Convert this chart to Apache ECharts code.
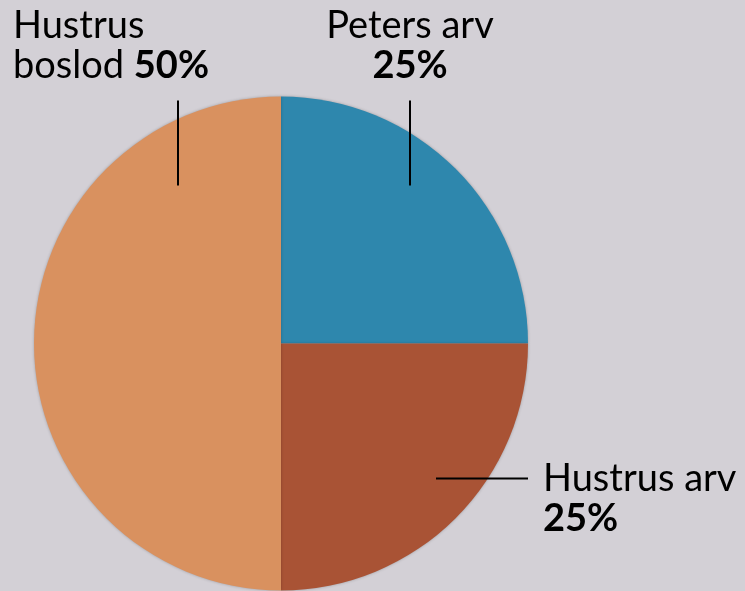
<!DOCTYPE html>
<html><head><meta charset="utf-8">
<script src="https://cdn.jsdelivr.net/npm/echarts@6/dist/echarts.min.js"></script>
<style>html,body{margin:0;padding:0;background:#d3d0d6;}#c{width:745px;height:591px;}</style>
</head><body><div id="c"></div>
<script>
var categories = ['Peters arv', 'Hustrus arv', 'Hustrus boslod'];
var values = [25, 25, 50];
var colors = ['#2e87ad', '#a95335', '#d9915f'];
var nameLines = [['Peters arv'], ['Hustrus arv'], ['Hustrus', 'boslod']];

var chart = echarts.init(document.getElementById('c'), null, {renderer: 'canvas'});
var cx = 281, cy = 343.5, R = 247;
var labelSpots = [
  {x: cx + 129, y: 6, align: 'center', line: [[cx + 129, cy - 158], [cx + 129, cy - 200], [cx + 129, cy - 243]]},
  {x: 543, y: 459, align: 'left', line: [[cx + 155, cy + 135], [cx + 200, cy + 135], [cx + 247, cy + 135]]},
  {x: 13, y: 6, align: 'left', line: [[cx - 103, cy - 158], [cx - 103, cy - 200], [cx - 103, cy - 243]]}
];
var font = 'Lato, "Open Sans", sans-serif';
var pieData = categories.map(function (c, i) {
  return {name: c, value: values[i], itemStyle: {color: colors[i]}};
});
chart.setOption({
  backgroundColor: '#d3d0d6',
  animation: false,
  series: [{
    type: 'pie',
    z: 2,
    center: [cx, cy],
    radius: [0, R],
    startAngle: 90,
    clockwise: true,
    data: pieData,
    itemStyle: {shadowBlur: 3, shadowColor: 'rgba(0,0,0,0.25)'},
    label: {show: false},
    labelLine: {show: false},
    emphasis: {disabled: true},
    silent: true
  }, {
    type: 'pie',
    z: 5,
    center: [cx, cy],
    radius: [0, R],
    startAngle: 90,
    clockwise: true,
    avoidLabelOverlap: false,
    data: categories.map(function (c, i) {
      return {name: c, value: values[i]};
    }),
    itemStyle: {color: 'rgba(0,0,0,0)'},
    label: {
      show: true,
      position: 'outside',
      formatter: function (p) {
        var nl = nameLines[p.dataIndex];
        var pct = p.value + '%';
        if (nl.length === 2) return '{n|' + nl[0] + '}\n{n|' + nl[1] + ' }{b|' + pct + '}';
        return '{n|' + nl[0] + '}\n{b|' + pct + '}';
      },
      rich: {
        n: {fontSize: 38, fontFamily: font, color: '#000', lineHeight: 40},
        b: {fontSize: 38, fontFamily: font, color: '#000', fontWeight: 'bold', lineHeight: 40}
      }
    },
    labelLine: {show: true, smooth: false, lineStyle: {color: '#000', width: 2}},
    labelLayout: function (params) {
      var s = labelSpots[params.dataIndex];
      return {x: s.x, y: s.y, align: s.align, verticalAlign: 'top', labelLinePoints: s.line, moveOverlap: false, hideOverlap: false};
    },
    emphasis: {disabled: true},
    silent: true
  }]
});
</script></body></html>
